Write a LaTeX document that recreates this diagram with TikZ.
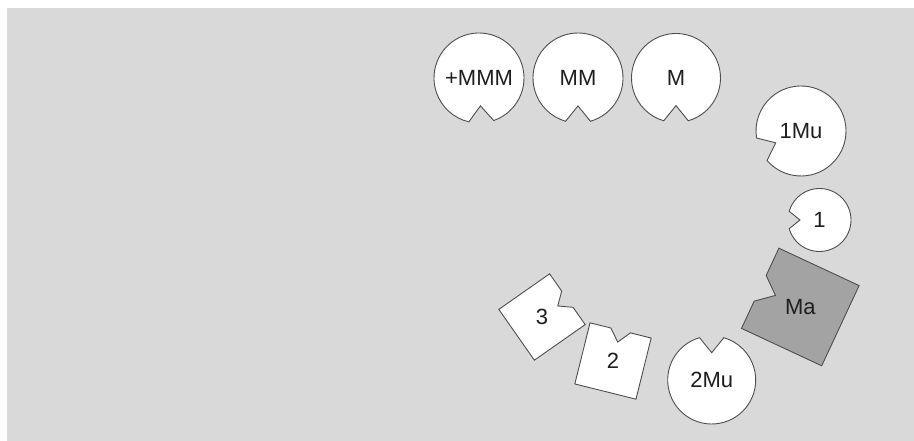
\documentclass[tikz,border=0pt]{standalone}
\usepackage{fontspec}
\setmainfont{Liberation Sans}
\definecolor{scan}{HTML}{D9D9D9}
\definecolor{edge}{HTML}{4E4E4E}
\definecolor{ink}{HTML}{1E1E1E}
\definecolor{held}{HTML}{A3A3A3}

\begin{document}
\begin{tikzpicture}[x=1pt, y=1pt,
  piece/.style={draw=edge, line width=0.9pt, fill=white, line join=miter},
  tag/.style={text=ink, font=\fontsize{22}{26}\selectfont, inner sep=0pt},
  pics/disc/.style n args={3}{code={
    \draw[piece] (#1+16:#2) arc[start angle=#1+16, end angle=#1+344, radius=#2] -- (#1:0.62*#2) -- cycle;
    \node[tag] (-tag) {#3};
  }},
  pics/sq/.style n args={3}{code={
    \draw[piece, fill=#3] (-#1/2,-#1/2) -- (#1/2,-#1/2) -- (#1/2,#1/2) -- (0.16*#1,#1/2) -- (0,0.31*#1) -- (-0.16*#1,#1/2) -- (-#1/2,#1/2) -- cycle;
    \node[tag] (-tag) {#2};
  }}]
\useasboundingbox (0,0) rectangle (914,441);
\fill[white] (0,0) rectangle (914,441);
\fill[scan] (7,0) rectangle (914,433);

% top row
\pic (mmm) at (479,363) {disc={273}{45}{+MMM}};
\pic (mm) at (578,363) {disc={270}{45}{MM}};
\pic (m) at (676,363) {disc={270}{44.5}{M}};
% right side
\pic (onemu) at (801,310) {disc={205}{45}{1Mu}};
\pic (one) at (819.5,221) {disc={180}{31.5}{1}};
\pic (twomu) at (711.7,61) {disc={90}{44}{2Mu}};
% squares
\pic[rotate=65] (ma) at (800.3,134) {sq={88.5}{Ma}{held}};
\pic[rotate=-55] (three) at (542,124) {sq={62}{3}{white}};
\pic[rotate=-14] (two) at (613,80) {sq={63}{2}{white}};
\end{tikzpicture}
\end{document}
